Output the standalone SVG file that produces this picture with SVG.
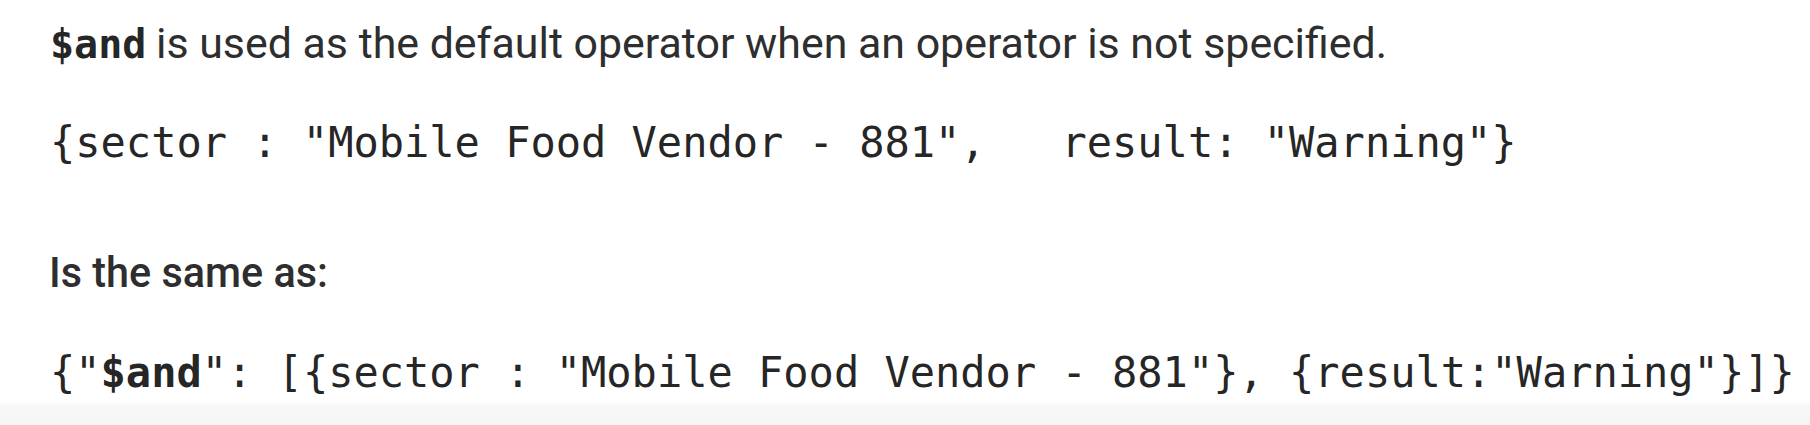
<svg xmlns="http://www.w3.org/2000/svg" width="1810" height="425" viewBox="0 0 1810 425">
  <defs>
    <linearGradient id="band" x1="0" y1="0" x2="0" y2="1">
      <stop offset="0" stop-color="#ffffff"/>
      <stop offset="0.3" stop-color="#f7f7f7"/>
      <stop offset="1" stop-color="#f5f5f5"/>
    </linearGradient>
  </defs>
  <style>
    .prose { font-family: Roboto, "Liberation Sans", sans-serif; font-size: 42px; fill: #2e2e2e; }
    .mono { font-family: "DejaVu Sans Mono", "Liberation Mono", monospace; fill: #262626; }
    .code { font-size: 42px; }
  </style>
  <rect x="0" y="0" width="1810" height="425" fill="#ffffff"/>
  <rect x="0" y="400" width="1810" height="25" fill="url(#band)"/>
  <g id="line1">
    <text class="mono" x="50" y="58" font-size="40" font-weight="bold" fill="#2a2a2a">$and</text>
    <text class="prose" x="156" y="58" font-weight="400" textLength="1231" lengthAdjust="spacingAndGlyphs">is used as the default operator when an operator is not specified.</text>
  </g>
  <g id="code1">
    <text class="mono code" x="50" y="157" xml:space="preserve">{sector : "Mobile Food Vendor - 881",   result: "Warning"}</text>
  </g>
  <g id="line2">
    <text class="prose" x="49" y="287" font-weight="500" textLength="279" lengthAdjust="spacingAndGlyphs">Is the same as:</text>
  </g>
  <g id="code2">
    <text class="mono code" x="50" y="387" xml:space="preserve">{"<tspan font-weight="bold">$and</tspan>": [{sector : "Mobile Food Vendor - 881"}, {result:"Warning"}]}</text>
  </g>
</svg>
